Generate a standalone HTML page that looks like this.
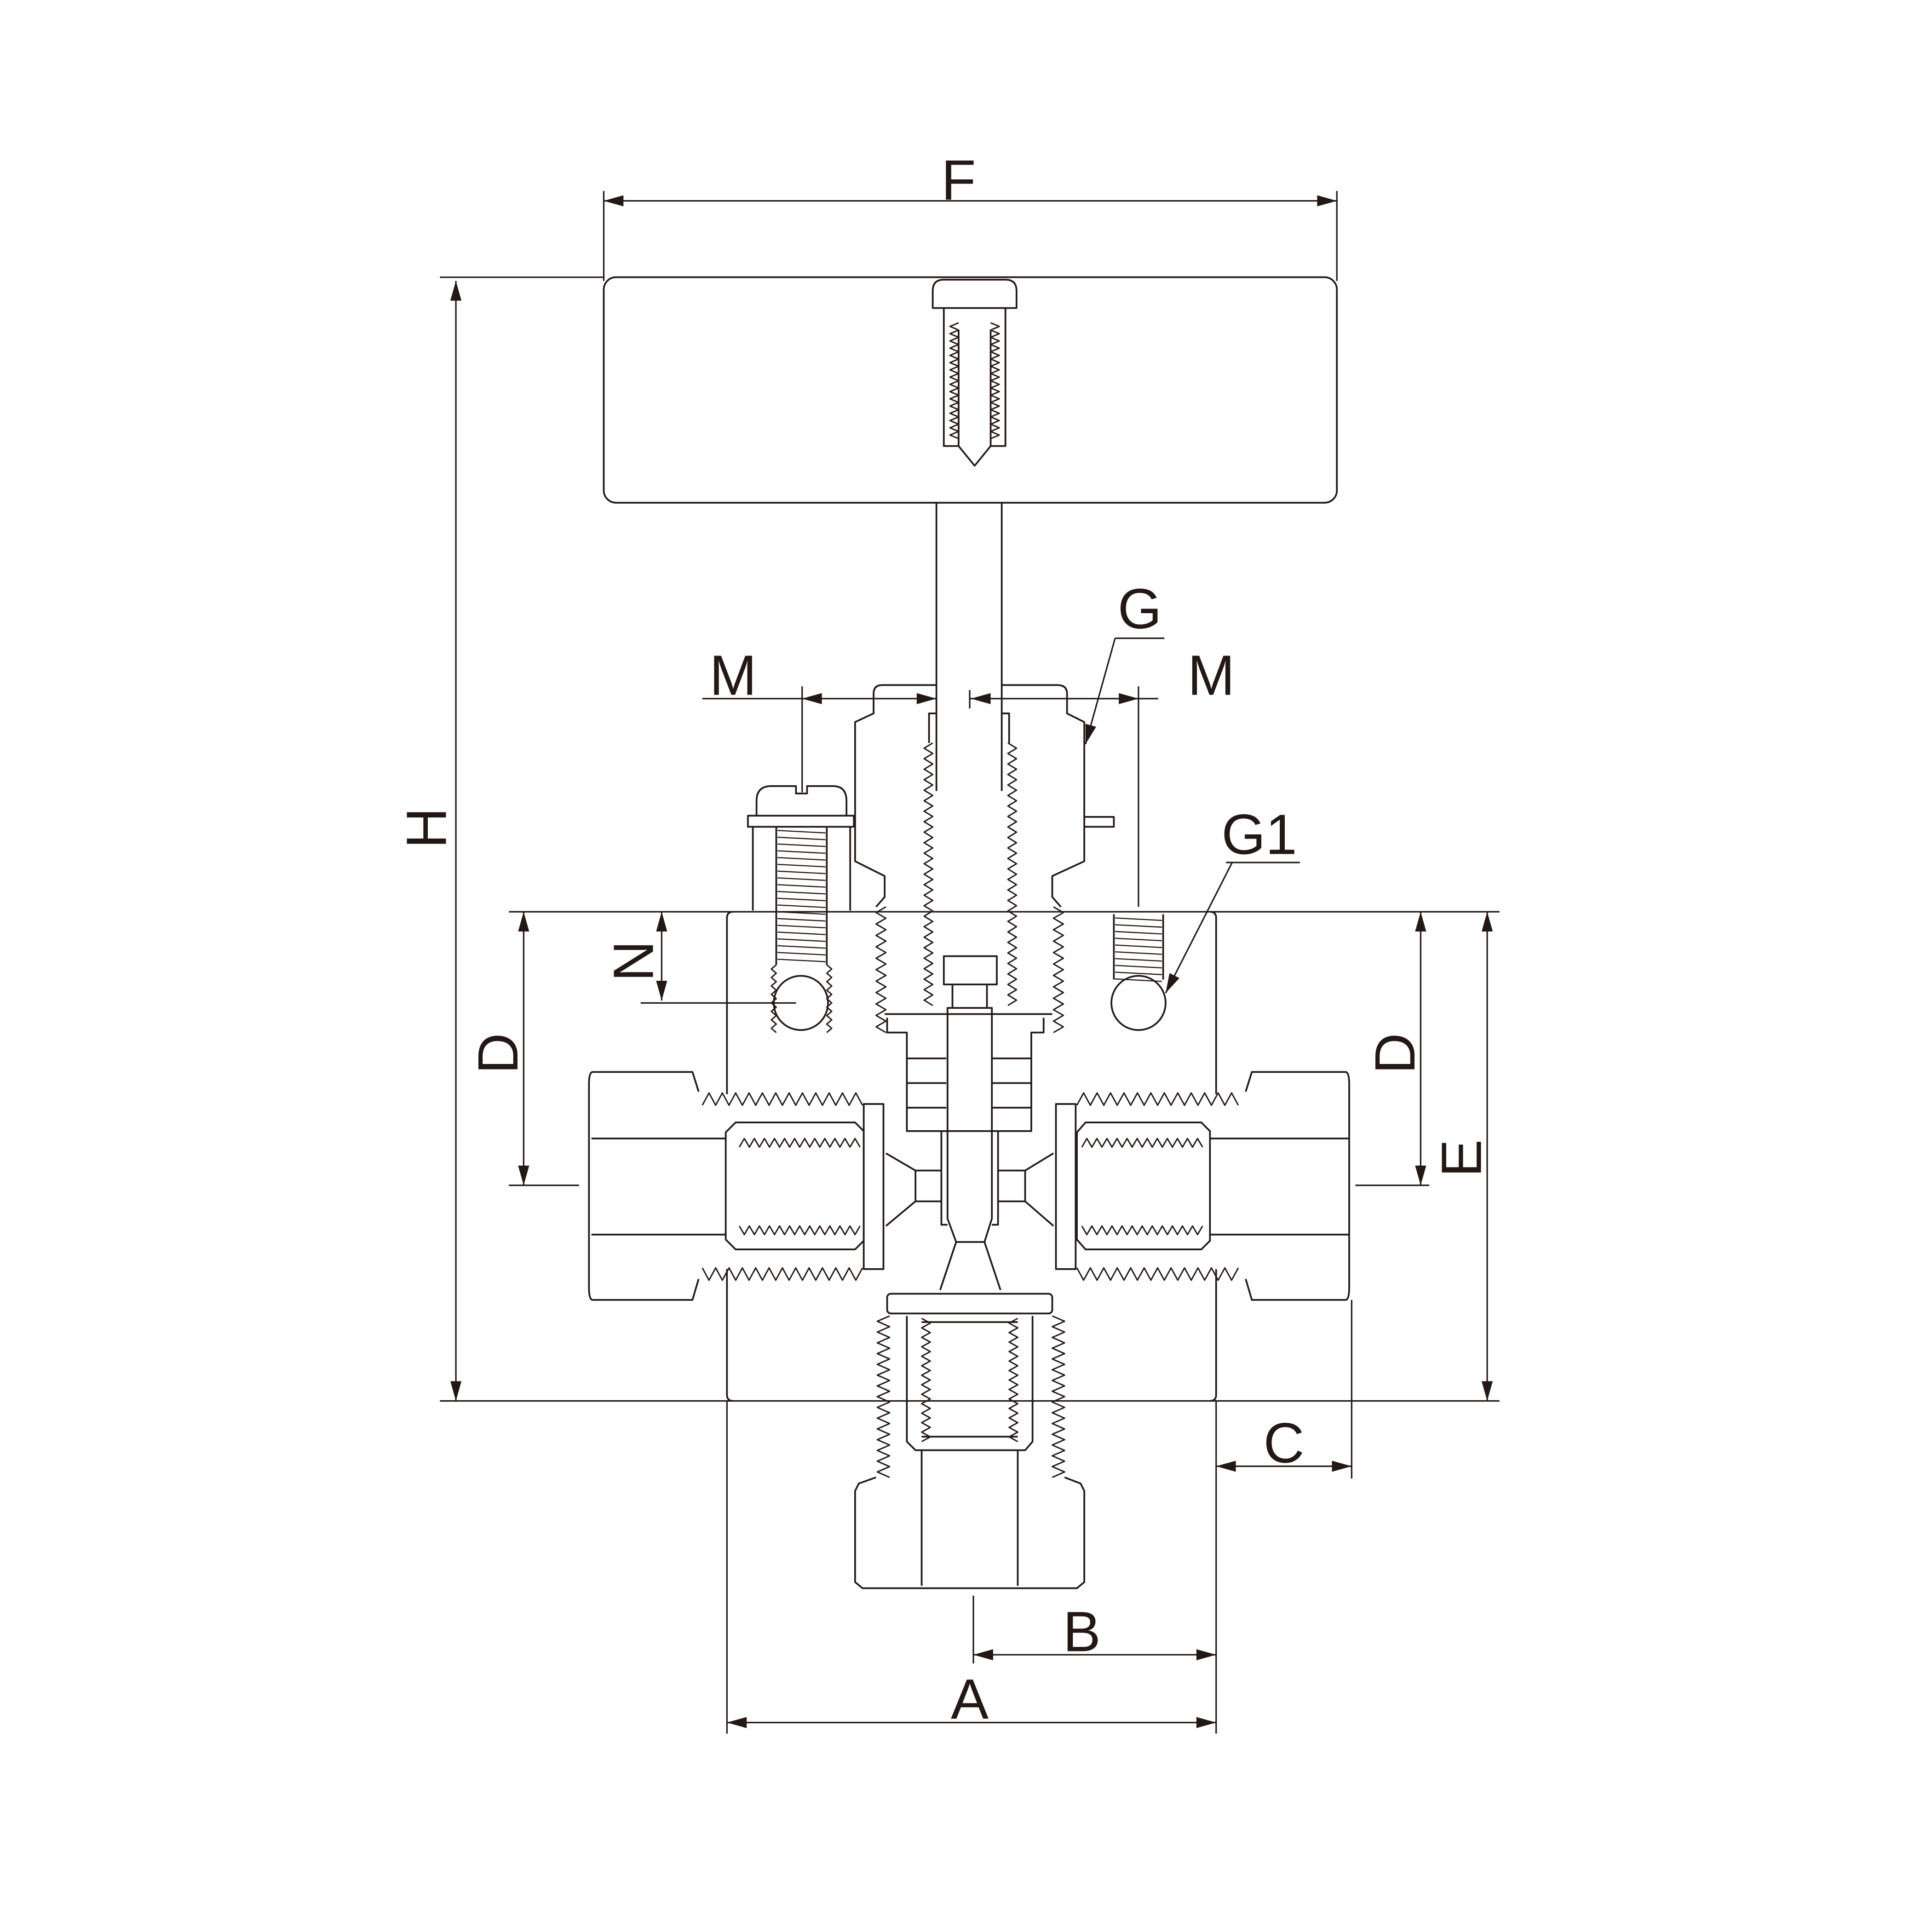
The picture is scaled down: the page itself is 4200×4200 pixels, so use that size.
<!DOCTYPE html>
<html><head><meta charset="utf-8"><style>
html,body{margin:0;padding:0;background:#fff}
svg{display:block}
text{font-family:"Liberation Sans",sans-serif;font-size:46px;fill:#231815}
</style></head><body>
<svg id="s" width="4200" height="4200" viewBox="0 0 1568 1568" xmlns="http://www.w3.org/2000/svg">
<g id="g" fill="none" stroke="#231815" stroke-width="1.4" stroke-linejoin="round">
<!-- handle -->
<rect x="490" y="225" width="595" height="183" rx="10"/>
<path d="M757 250 V236 Q757 227 766 227 H816 Q825 227 825 236 V250 Z"/>
<path d="M766 250 V362 L778 362 L791 378 L804 362 L816 362 V250"/>
<path d="M778 362 V268 M804 362 V268"/>
<!-- stem -->
<path d="M760 408 V642 M813 408 V642"/>
<path d="M760 579 H754 V603 M813 579 H819 V603"/>
<!-- bonnet -->
<path d="M760 556 H716 Q709 556 709 563 V579 L694 586 V699 L718 711 V728 L711 736"/>
<path d="M813 556 H858 Q866 556 866 563 V579 L880 586 V699 L854 711 V728 L861 736"/>
<path d="M880 663 H904 V671 H880"/>
<!-- gland -->
<path d="M718 823 H854 M720 826 V838 H736 V918 H837 V838 H847 V826"/>
<path d="M736 859 H768 M736 879 H768 M736 899 H768 M805 859 H837 M805 879 H837 M805 899 H837"/>
<rect x="766" y="776" width="43" height="23"/>
<path d="M773 799 V818 M801 799 V818"/>
<path d="M769 818 V989 L776 1008 H799 L805 989 V818 Z"/>
<path d="M764 918 V994 H769 M810 918 V994 H805"/>
<!-- body -->
<path d="M590 745 Q590 740 595 740 M590 745 V888 M590 1030 V1132 Q590 1137 595 1137"/>
<path d="M987 745 Q987 740 982 740 M987 745 V888 M987 1030 V1132 Q987 1137 982 1137"/>
<!-- left fitting -->
<path d="M567 886 L562 870 H481 Q478 870 478 880 V1045 Q478 1055 481 1055 H562 L567 1038"/>
<path d="M480 924 H589 M480 1002 H589"/>
<path d="M597 911 H694 L701 918 V1007 L694 1014 H597 L589 1006 V919 Z"/>
<rect x="701" y="896" width="16" height="134"/>
<path d="M719 936 L743 950 V975 L719 995 M743 950 H764 M743 975 H764"/>
<!-- right fitting -->
<path d="M1011 886 L1016 870 H1092 Q1095 870 1095 880 V1045 Q1095 1055 1092 1055 H1016 L1011 1038"/>
<path d="M982 924 H1095 M982 1002 H1095"/>
<path d="M881 911 H975 L982 918 V1007 L975 1014 H881 L874 1006 V919 Z"/>
<rect x="857" y="896" width="16" height="134"/>
<path d="M855 936 L832 950 V975 L855 995 M832 950 H810 M832 975 H810"/>
<!-- seat cone -->
<path d="M776 1008 L763 1047 M799 1008 L812 1047"/>
<rect x="720" y="1050" width="134" height="16" rx="3"/>
<!-- bottom fitting -->
<path d="M711 1199 L697 1204 L694 1210 V1284 L700 1289 H874 L880 1284 V1210 L877 1204 L864 1199"/>
<path d="M748 1177 V1287 M826 1177 V1287"/>
<path d="M736 1068 V1170 L743 1177 H832 L838 1170 V1068"/>
<path d="M748 1073 H826 M748 1166 H826"/>
<!-- screws -->
<path d="M614 662 V650 Q614 638 626 638 H646 V644 H655 V638 H676 Q687 638 687 650 V662"/>
<rect x="607" y="662" width="86" height="9"/>
<path d="M611 671 V739 M690 671 V739 M630 671 V783 M671 671 V783"/>
<circle cx="650" cy="814" r="22"/>
<circle cx="924" cy="814" r="22"/>
<path d="M904 742 V795 M944 742 V795"/>
<!-- dimension / extension lines -->
<g stroke-width="1.2">
<path d="M490 155 V228 M1085 155 V228 M490 163 H1085"/>
<path d="M357 225 H490 M357 1137 H1217 M413 740 H1217 M370 228 V1137"/>
<path d="M413 962 H470 M1100 962 H1160 M425 740 V962 M1153 740 V962 M1207 740 V1137"/>
<path d="M1097 1055 V1200 M987 1137 V1407 M590 1137 V1407 M790 1295 V1350"/>
<path d="M987 1190 H1097 M790 1343 H987 M590 1398 H987"/>
<path d="M570 567 H760 M787 567 H940 M787 560 V575 M651 557 V643 M924 557 V736"/>
<path d="M537 740 V812 M520 814 H646"/>
<path d="M905 518 H945 M905 518 L881 604"/>
<path d="M995 700 H1055 M1000 700 L946 806"/>
</g>
</g>
<g id="a" fill="#231815" stroke="none"></g>
<text x="778" y="162" text-anchor="middle">F</text>
<text x="595" y="564" text-anchor="middle">M</text>
<text x="983" y="564" text-anchor="middle">M</text>
<text x="925" y="510" text-anchor="middle">G</text>
<text x="1022" y="693" text-anchor="middle">G1</text>
<text transform="translate(362,672) rotate(-90)" text-anchor="middle">H</text>
<text transform="translate(420,855) rotate(-90)" text-anchor="middle">D</text>
<text transform="translate(530,780) rotate(-90)" text-anchor="middle">N</text>
<text transform="translate(1148,855) rotate(-90)" text-anchor="middle">D</text>
<text transform="translate(1202,940) rotate(-90)" text-anchor="middle">E</text>
<text x="1042" y="1187" text-anchor="middle">C</text>
<text x="878" y="1340" text-anchor="middle">B</text>
<text x="787" y="1395" text-anchor="middle">A</text>
</svg>
<script>
var NS="http://www.w3.org/2000/svg",G=document.getElementById('g'),A=document.getElementById('a');
function p(d,w){var e=document.createElementNS(NS,'path');e.setAttribute('d',d);if(w)e.setAttribute('stroke-width',w);G.appendChild(e);}
function hz(x1,x2,y,amp,pitch){var d='M'+x1+' '+y,n=Math.round((x2-x1)/pitch),s=(x2-x1)/n;for(var i=0;i<n;i++){d+=' L'+(x1+s*(i+.5))+' '+(y+amp)+' L'+(x1+s*(i+1))+' '+y;}p(d,1.1);}
function vz(y1,y2,x,amp,pitch){var d='M'+x+' '+y1,n=Math.round((y2-y1)/pitch),s=(y2-y1)/n;for(var i=0;i<n;i++){d+=' L'+(x+amp)+' '+(y1+s*(i+.5))+' L'+x+' '+(y1+s*(i+1));}p(d,1.1);}
function hl(x1,x2,y1,y2,pitch){for(var y=y1;y<=y2;y+=pitch)p('M'+x1+' '+y+' L'+x2+' '+(y+2),0.9);}
// side fittings outer threads
hz(570,700,897,-10,10.5);hz(570,700,1029,10,10.5);
hz(874,1005,897,-10,10.5);hz(874,1005,1029,10,10.5);
// inner threads
hz(600,698,931,-7,8);hz(600,698,995,7,8);
hz(878,976,931,-7,8);hz(878,976,995,7,8);
// bonnet threads
vz(736,838,719,-8,9);vz(736,838,855,8,9);
vz(603,816,757,-7,8.5);vz(603,816,818,7,8.5);
// bottom fitting threads
vz(1068,1199,722,-10,9);vz(1068,1199,854,10,9);
vz(1070,1170,748,7,7.5);vz(1070,1170,826,-7,7.5);
// handle screw threads
vz(262,356,778,-7,6);vz(262,356,804,7,6);
// screws
hl(631,670,674,782,5.5);hl(905,943,745,796,5.5);
vz(783,838,630,-4,7);vz(783,838,671,4,7);
// arrows
function ar(x,y,dx,dy){var L=16,W=4.5,bx=x-dx*L,by=y-dy*L,px=-dy*W,py=dx*W;var e=document.createElementNS(NS,'path');e.setAttribute('d','M'+x+' '+y+' L'+(bx+px)+' '+(by+py)+' L'+(bx-px)+' '+(by-py)+'Z');A.appendChild(e);}
ar(490,163,-1,0);ar(1085,163,1,0);
ar(370,228,0,-1);ar(370,1137,0,1);
ar(425,740,0,-1);ar(425,962,0,1);
ar(1153,740,0,-1);ar(1153,962,0,1);
ar(1207,740,0,-1);ar(1207,1137,0,1);
ar(987,1190,-1,0);ar(1097,1190,1,0);
ar(790,1343,-1,0);ar(987,1343,1,0);
ar(590,1398,-1,0);ar(987,1398,1,0);
ar(651,567,-1,0);ar(760,567,1,0);ar(788,567,-1,0);ar(924,567,1,0);
ar(537,740,0,-1);ar(537,812,0,1);
ar(881,604,-0.27,0.96);ar(946,806,-0.45,0.89);
</script>
</body></html>
